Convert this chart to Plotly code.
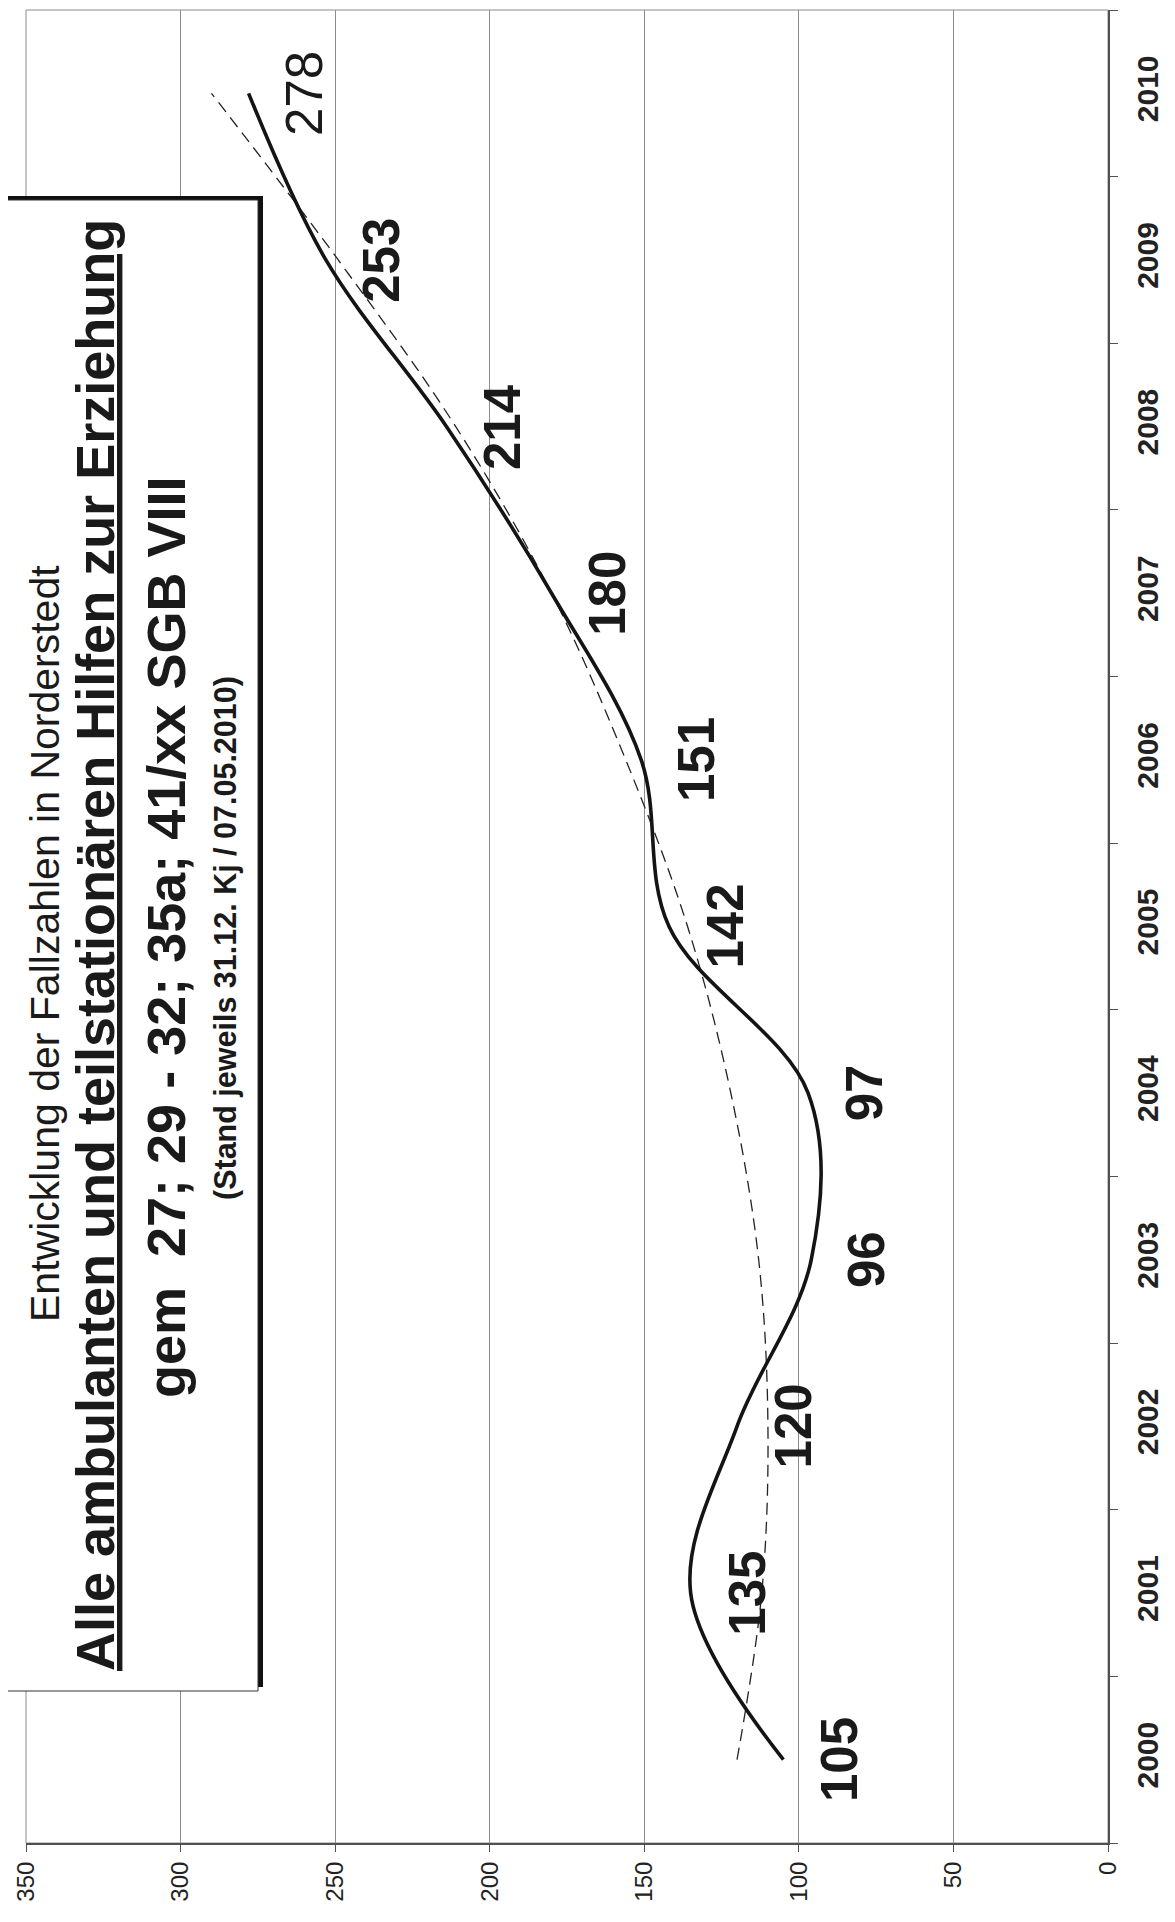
import plotly.graph_objects as go

# ---- data ----
years = [2000, 2001, 2002, 2003, 2004, 2005, 2006, 2007, 2008, 2009, 2010]
cases = [105, 135, 120, 96, 97, 142, 151, 180, 214, 253, 278]
trend = [120, 112, 110, 113, 122, 136, 156, 180, 211, 249, 290]
label_bold = [True, True, True, True, True, True, True, True, True, True, False]
value_ticks = [0, 50, 100, 150, 200, 250, 300, 350]

title_lines = [
    "Entwicklung der Fallzahlen in Norderstedt",
    "<u>Alle ambulanten und teilstationären Hilfen zur Erziehung</u>",
    "gem  27; 29 - 32; 35a; 41/xx SGB VIII",
    "(Stand jeweils 31.12. Kj / 07.05.2010)",
]

W, H = 1175, 1922
ML, MR, MT, MB = 18, 75, 2, 87
PW, PH = W - ML - MR, H - MT - MB


def px(xp):
    return (xp - ML) / PW


def py(yp):
    return 1 - (yp - MT) / PH


fig = go.Figure()

fig.add_trace(go.Scatter(
    x=trend, y=years, mode="lines",
    line=dict(color="#222222", width=1.3, dash="12px,7px", shape="spline", smoothing=1),
    hoverinfo="skip", showlegend=False,
))
fig.add_trace(go.Scatter(
    x=cases, y=years, mode="lines",
    line=dict(color="#141414", width=3.6, shape="spline", smoothing=1),
    showlegend=False,
))

ann = []
for v, yr, b in zip(cases, years, label_bold):
    ann.append(dict(
        x=v, y=yr, xref="x", yref="y", text=str(v), showarrow=False,
        textangle=-90, xshift=56, xanchor="center", yanchor="middle",
        font=dict(family="Liberation Sans, Arial, sans-serif", size=51,
                  color="#1a1a1a", weight="bold" if b else "normal"),
    ))

# title box lines
title_specs = [
    (37, 936, 41, "normal"),
    (87, 937, 54, "bold"),
    (158, 930, 54, "bold"),
    (217, 930, 30.5, "bold"),
]
for txt, (cx, cy, fs, wt) in zip(title_lines, title_specs):
    ann.append(dict(
        x=px(cx), y=py(cy), xref="paper", yref="paper", text=txt, showarrow=False,
        textangle=-90, xanchor="center", yanchor="middle",
        font=dict(family="Liberation Sans, Arial, sans-serif", size=fs,
                  color="#1a1a1a", weight=wt),
    ))

shapes = [
    # plot area border
    dict(type="rect", xref="paper", yref="paper", x0=0, x1=1, y0=0, y1=1,
         line=dict(color="#8c8c8c", width=1), layer="below"),
    # title box shadow
    dict(type="rect", xref="paper", yref="paper",
         x0=px(-1), x1=px(255), y0=py(1679), y1=py(188),
         fillcolor="#111111", line=dict(width=0), layer="above"),
    # title box
    dict(type="rect", xref="paper", yref="paper",
         x0=px(-6), x1=px(250), y0=py(1683), y1=py(192),
         fillcolor="white", line=dict(color="#333333", width=1), layer="above"),
]

fig.update_layout(
    width=W, height=H,
    margin=dict(l=ML, r=MR, t=MT, b=MB),
    paper_bgcolor="white", plot_bgcolor="white",
    showlegend=False,
    annotations=ann, shapes=shapes,
    xaxis=dict(
        range=[350, 0], tickvals=value_ticks, tickangle=-90,
        showgrid=True, gridcolor="#8c8c8c", gridwidth=1, zeroline=False,
        showline=True, linecolor="#505050", linewidth=2,
        ticks="outside", ticklen=7, tickcolor="#505050", ticklabelstandoff=0,
        tickfont=dict(family="Liberation Sans, Arial, sans-serif", size=24, color="#222222"),
    ),
    yaxis=dict(
        range=[1999.5, 2010.5], side="right",
        tickvals=years, ticktext=[str(y) for y in years], tickangle=-90,
        showgrid=False, zeroline=False,
        showline=True, linecolor="#505050", linewidth=2,
        ticks="", ticklabelstandoff=12,
        minor=dict(tickvals=[y - 0.5 for y in years] + [2010.5], ticks="outside",
                   ticklen=8, tickcolor="#505050", tickwidth=1, showgrid=False),
        tickfont=dict(family="Liberation Sans, Arial, sans-serif", size=30,
                      color="#222222", weight="bold"),
    ),
)

fig.write_html("out.html")
